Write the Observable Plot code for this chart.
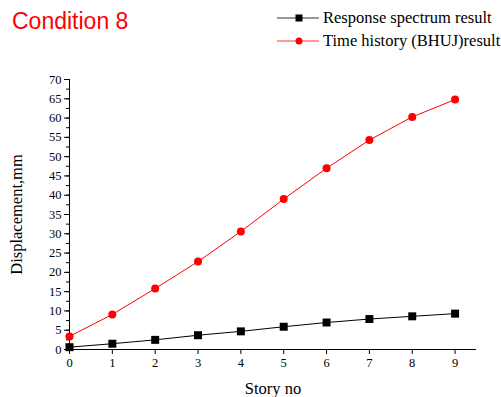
<!DOCTYPE html>
<html><head><meta charset="utf-8">
<script src="https://cdn.jsdelivr.net/npm/d3@7"></script>
<script src="https://cdn.jsdelivr.net/npm/@observablehq/plot@0.6"></script>
<style>
body{margin:0;background:#fff;}
#wrap{position:relative;width:501px;height:397px;}
#title{position:absolute;left:12px;top:8px;font-family:"Liberation Sans",Arial,sans-serif;font-size:23px;color:#ff0000;}
</style></head>
<body><div id="wrap"><div id="title">Condition 8</div>
<svg id="legsvg" width="501" height="60" style="position:absolute;left:0;top:0"></svg>
</div>
<script>
const stories = [0,1,2,3,4,5,6,7,8,9];
const responseSpectrum = [0.6,1.5,2.5,3.7,4.7,5.9,7.0,7.9,8.6,9.3];
const timeHistory = [3.4,9.1,15.8,22.8,30.6,39.0,47.0,54.3,60.3,64.8];
const seriesNames = ["Response spectrum result","Time history (BHUJ)result"];
const yMajorTicks = [0,5,10,15,20,25,30,35,40,45,50,55,60,65,70];
const yMinorTicks = d3.range(0,70.1,2.5);

const rs = stories.map((s,i)=>({x:s,y:responseSpectrum[i]}));
const th = stories.map((s,i)=>({x:s,y:timeHistory[i]}));

const serif = "'Liberation Serif','Times New Roman',serif";
const chart = Plot.plot({
  width:501, height:397,
  marginLeft:69, marginRight:25, marginTop:79, marginBottom:48,
  style:{fontFamily:serif, fontSize:"12px", color:"#000", background:"transparent"},
  x:{domain:[0,9.5]},
  y:{domain:[0,70]},
  marks:[
    Plot.axisY({ticks:yMinorTicks, tickSize:3, text:null, label:null}),
    Plot.axisY({ticks:yMajorTicks, tickSize:5, tickPadding:3, label:null, fontSize:12.5}),
    Plot.axisX({ticks:stories, tickSize:5, tickPadding:4, label:null, fontSize:12.5}),
    Plot.ruleX([0],{stroke:"#000"}),
    Plot.ruleY([0],{stroke:"#000"}),
    Plot.line(rs,{x:"x",y:"y",stroke:"#000",strokeWidth:1}),
    Plot.dot(rs,{x:"x",y:"y",symbol:"square",r:4.5,fill:"#000",stroke:"none"}),
    Plot.line(th,{x:"x",y:"y",stroke:"#ff0000",strokeWidth:1}),
    Plot.dot(th,{x:"x",y:"y",r:4,fill:"#ff0000",stroke:"none"}),
    Plot.text(["Story no"],{frameAnchor:"bottom",textAnchor:"middle",dy:44,fontSize:16.5,fill:"#000"}),
    Plot.text(["Displacement,mm"],{frameAnchor:"left",textAnchor:"middle",dx:-53,rotate:-90,fontSize:16.5,fill:"#000"})
  ]
});
chart.style.position="absolute"; chart.style.left="0"; chart.style.top="0";
document.getElementById("wrap").prepend(chart);

// legend
const leg = d3.select("#legsvg");
const legItems = [{name:seriesNames[0],color:"#333",mark:"#000",sym:"square",y:18},{name:seriesNames[1],color:"#ff3333",mark:"#ff0000",sym:"circle",y:41}];
legItems.forEach(d=>{
  leg.append("line").attr("x1",277).attr("x2",319).attr("y1",d.y).attr("y2",d.y).attr("stroke",d.color);
  if(d.sym==="square") leg.append("rect").attr("x",295.5).attr("y",d.y-3.5).attr("width",7).attr("height",7).attr("fill",d.mark);
  else leg.append("circle").attr("cx",299).attr("cy",d.y).attr("r",3.5).attr("fill",d.mark);
  leg.append("text").attr("x",323).attr("y",d.y+5).attr("font-family",serif).attr("font-size",16.5).text(d.name);
});
</script>
</body></html>
